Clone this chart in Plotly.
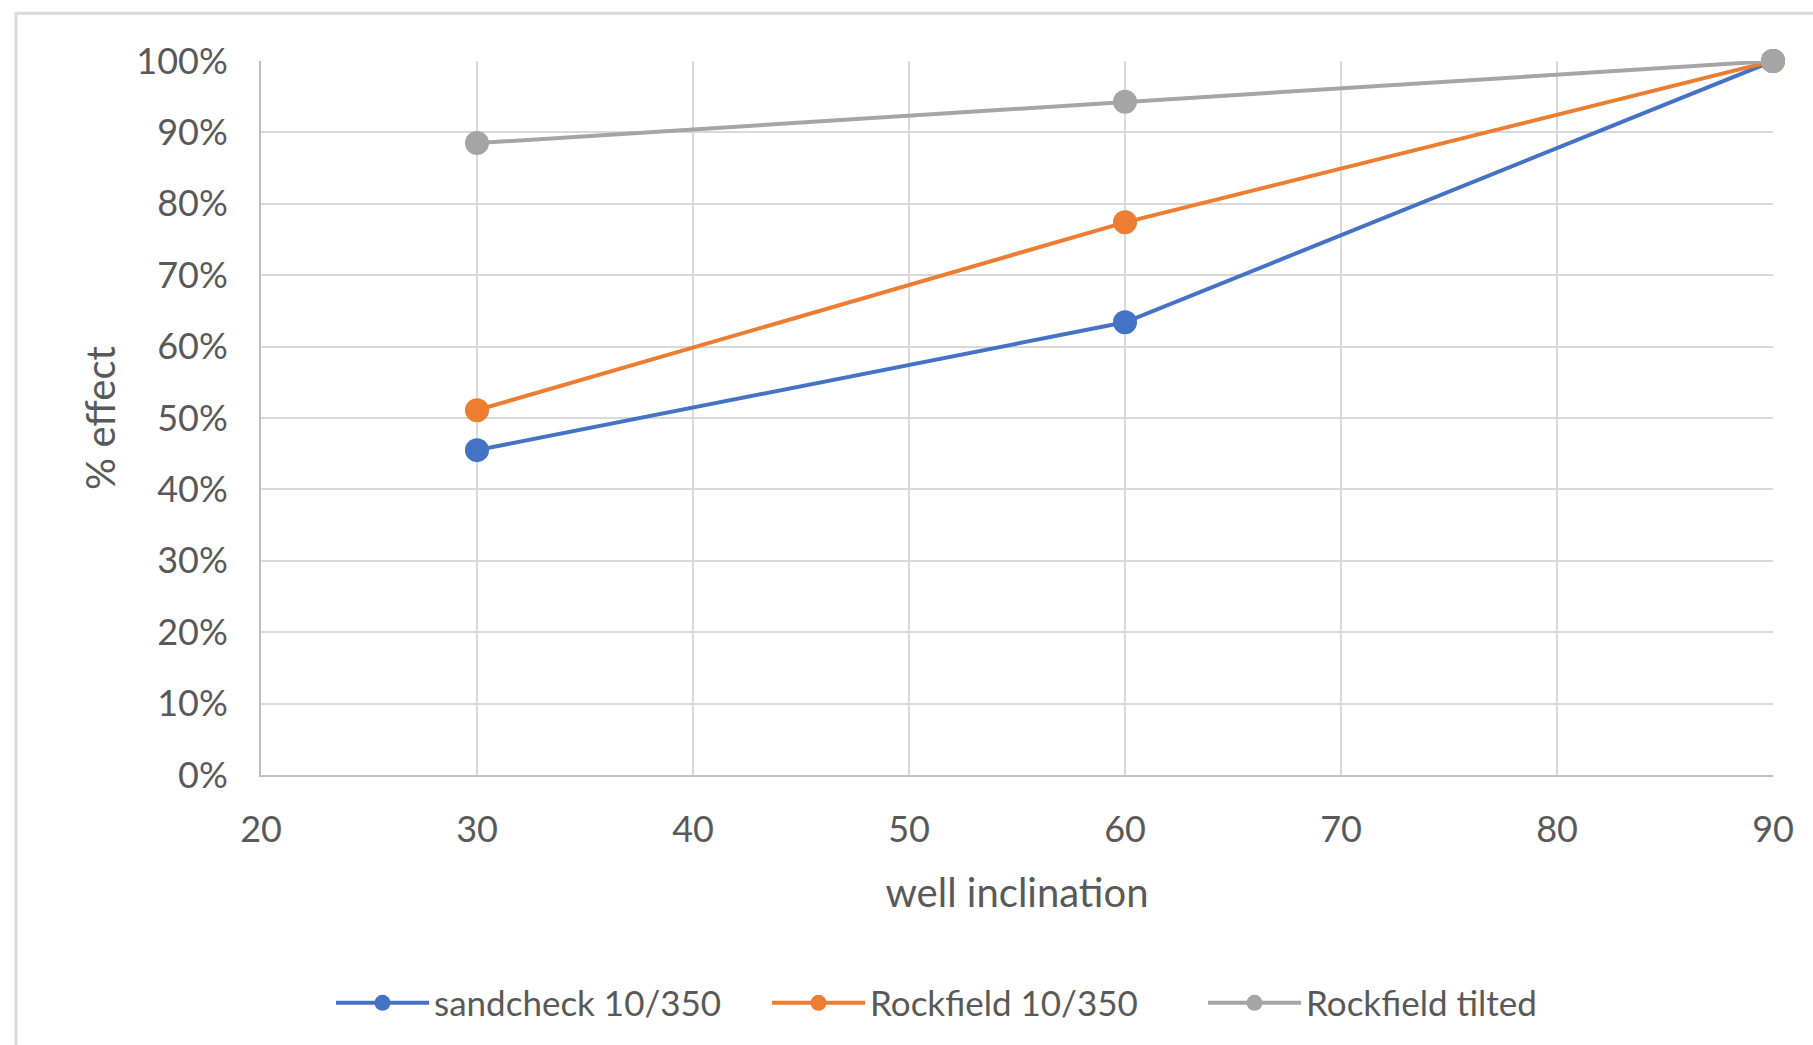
import plotly.graph_objects as go

inclination = [30, 60, 90]
sandcheck = [0.455, 0.634, 1.0]
rockfield = [0.511, 0.774, 1.0]
rockfield_tilted = [0.885, 0.943, 1.0]

series_names = ["sandcheck 10/350", "Rockfield 10/350", "Rockfield tilted"]
series_values = [sandcheck, rockfield, rockfield_tilted]
series_colors = ["#4472C4", "#ED7D31", "#A5A5A5"]

FONT = "Lato"
TXT = "#595959"
GRID = "#D9D9D9"

fig = go.Figure()
for name, vals, col in zip(series_names, series_values, series_colors):
    fig.add_trace(go.Scatter(
        x=inclination, y=vals, name=name, mode="lines+markers",
        line=dict(color=col, width=4),
        marker=dict(color=col, size=24),
        cliponaxis=False,
    ))

W, H = 1813, 1045
L, R, T, B = 261, 40, 61, 267
pw, ph = W - L - R, H - T - B

def px(x):
    return (x - L) / pw

def py(y):
    return (H - B - y) / ph

fig.update_layout(
    width=W, height=H,
    margin=dict(l=L, r=R, t=T, b=B),
    paper_bgcolor="white", plot_bgcolor="white",
    font=dict(family=FONT, color=TXT, size=36),
    showlegend=True,
    legend=dict(
        orientation="h", x=px(331), y=py(1007), xanchor="left", yanchor="middle",
        font=dict(size=35, color=TXT, family=FONT),
        itemwidth=93,
        entrywidth=328,
        bgcolor="rgba(0,0,0,0)",
    ),
    xaxis=dict(
        range=[20, 90], dtick=10, tick0=20,
        showgrid=True, gridcolor=GRID, gridwidth=2,
        showline=True, linecolor="#BFBFBF", linewidth=2,
        zeroline=False, ticks="", ticklabelstandoff=22,
        tickfont=dict(size=36, color=TXT, family=FONT),
        title=dict(text="well inclination", font=dict(size=40, color=TXT, family=FONT), standoff=30),
    ),
    yaxis=dict(
        range=[0, 1], dtick=0.1, tickformat=".0%",
        showgrid=True, gridcolor=GRID, gridwidth=2,
        showline=True, linecolor="#BFBFBF", linewidth=2,
        zeroline=False, ticks="", ticklabelstandoff=24,
        tickfont=dict(size=36, color=TXT, family=FONT),
        title=dict(text="% effect", font=dict(size=40, color=TXT, family=FONT), standoff=8),
    ),
    shapes=[dict(
        type="rect", xref="paper", yref="paper",
        x0=px(16), x1=px(1830), y0=py(13), y1=py(1070),
        line=dict(color="#D9D9D9", width=3), fillcolor="rgba(0,0,0,0)", layer="below",
    )],
)

fig.write_html("out.html")
